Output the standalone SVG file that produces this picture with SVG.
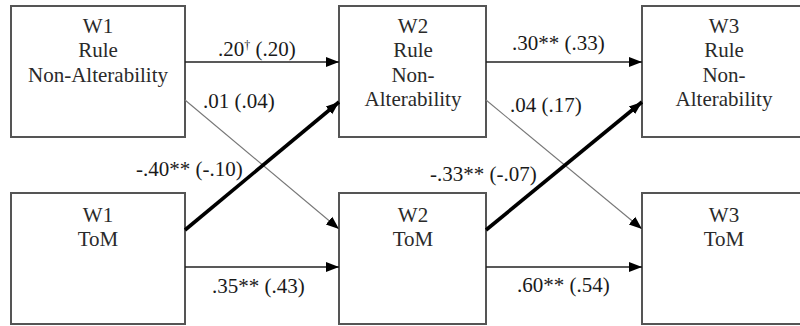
<svg xmlns="http://www.w3.org/2000/svg" width="800" height="326" viewBox="0 0 800 326">
<style>
.box{fill:#fff;stroke:#555;stroke-width:2}
.t{font-family:"Liberation Serif","Times New Roman","DejaVu Serif",serif;font-size:21px;fill:#2a2a2a;text-anchor:middle}
.l{font-family:"Liberation Serif","Times New Roman","DejaVu Serif",serif;font-size:21px;fill:#1a1a1a}
.h{stroke:#222;stroke-width:1.6;fill:none}
.thin{stroke:#777;stroke-width:1.1;fill:none}
.thick{stroke:#000;stroke-width:3.6;fill:none}
</style>
<defs>
<marker id="ah" markerUnits="userSpaceOnUse" markerWidth="14" markerHeight="12" viewBox="0 0 14 12" refX="13" refY="6" orient="auto">
<path d="M0,1 L13,6 L0,11 Z" fill="#000"/>
</marker>
</defs>
<rect width="800" height="326" fill="#fff"/>
<g id="w1rna"><rect class="box" x="11" y="6" width="174" height="131"/>
<text class="t" x="98" y="33">W1</text><text class="t" x="98" y="57">Rule</text><text class="t" x="98" y="82">Non-Alterability</text></g>
<g id="w2rna"><rect class="box" x="339" y="6" width="147" height="131"/>
<text class="t" x="413" y="33">W2</text><text class="t" x="413" y="57">Rule</text><text class="t" x="413" y="82">Non-</text><text class="t" x="413" y="106">Alterability</text></g>
<g id="w3rna"><rect class="box" x="642" y="6" width="160" height="131"/>
<text class="t" x="724" y="33">W3</text><text class="t" x="724" y="57">Rule</text><text class="t" x="724" y="82">Non-</text><text class="t" x="724" y="106">Alterability</text></g>
<g id="w1tom"><rect class="box" x="11" y="193" width="174" height="131"/>
<text class="t" x="98" y="222">W1</text><text class="t" x="98" y="246">ToM</text></g>
<g id="w2tom"><rect class="box" x="339" y="193" width="147" height="131"/>
<text class="t" x="413" y="222">W2</text><text class="t" x="413" y="246">ToM</text></g>
<g id="w3tom"><rect class="box" x="642" y="193" width="160" height="131"/>
<text class="t" x="724" y="222">W3</text><text class="t" x="724" y="246">ToM</text></g>
<g id="connectors">
<line class="h" x1="185" y1="62" x2="339" y2="62" marker-end="url(#ah)"/>
<line class="h" x1="486" y1="62" x2="642" y2="62" marker-end="url(#ah)"/>
<line class="h" x1="185" y1="267" x2="339" y2="267" marker-end="url(#ah)"/>
<line class="h" x1="486" y1="267" x2="642" y2="267" marker-end="url(#ah)"/>
<line class="thin" x1="185" y1="100" x2="339" y2="229" marker-end="url(#ah)"/>
<line class="thin" x1="486" y1="100" x2="642" y2="229" marker-end="url(#ah)"/>
<line class="thick" x1="185" y1="230" x2="339" y2="102" marker-end="url(#ah)"/>
<line class="thick" x1="486" y1="230" x2="642" y2="102" marker-end="url(#ah)"/>
</g>
<g id="labels">
<text class="l" x="218" y="56">.20<tspan font-size="12" dy="-7">†</tspan><tspan dy="7"> (.20)</tspan></text>
<text class="l" x="203" y="108">.01 (.04)</text>
<text class="l" x="136" y="176">-.40** (-.10)</text>
<text class="l" x="212" y="293">.35** (.43)</text>
<text class="l" x="512" y="50">.30** (.33)</text>
<text class="l" x="510" y="112">.04 (.17)</text>
<text class="l" x="430" y="181">-.33** (-.07)</text>
<text class="l" x="517" y="292">.60** (.54)</text>
</g>
</svg>
